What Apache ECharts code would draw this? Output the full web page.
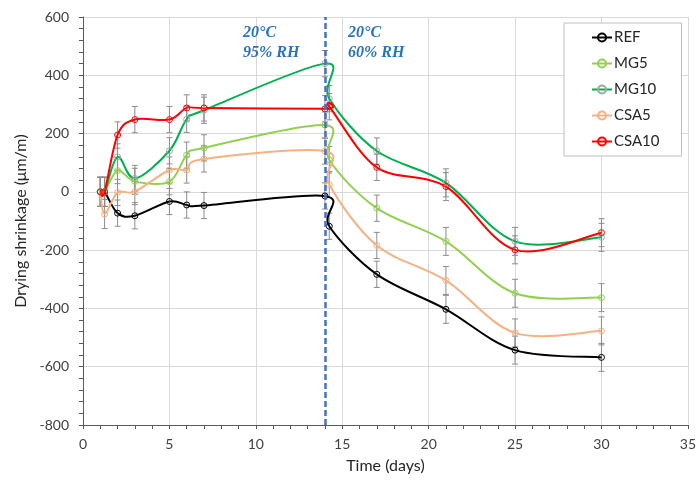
<!DOCTYPE html>
<html><head><meta charset="utf-8">
<script src="https://cdn.jsdelivr.net/npm/echarts@6/dist/echarts.min.js"></script>
<style>html,body{margin:0;padding:0;background:#fff}#c{width:699px;height:481px}</style>
</head><body><div id="c"></div>
<script>
// ---- data ----
const days = [1, 1.25, 2, 3, 5, 6, 7, 14, 14.25, 17, 21, 25, 30];
const seriesNames = ['REF', 'MG5', 'MG10', 'CSA5', 'CSA10'];
const REF   = [0, 0, -73, -82, -33, -45, -47, -14, -118, -283, -403, -543, -568];
const MG5   = [0, 0, 73, 36, 35, 126, 151, 229, 110, -56, -170, -348, -363];
const MG10  = [0, 0, 120, 46, 141, 249, 280, 440, 320, 140, 31, -170, -156];
const CSA5  = [0, -76, -2, 1, 75, 75, 113, 140, 25, -184, -304, -484, -477];
const CSA10 = [0, 0, 195, 248, 248, 288, 288, 285, 292, 84, 18, -199, -140];
const errors = [50, 50, 45, 45, 45, 45, 45, 45, 45, 45, 48, 48, 48];
const yTicks = [-800, -600, -400, -200, 0, 200, 400, 600];
const xTicks = [0, 5, 10, 15, 20, 25, 30, 35];
const phaseLabels = ['20°C\n95% RH', '20°C\n60% RH'];
const phaseChange = 14;

// ---- styles ----
const FONT = 'Lato';
const lineColors = {REF:'#000000', MG5:'#92D050', MG10:'#00B050', CSA5:'#F4B183', CSA10:'#FF0000'};
const markColors = {REF:'#000000', MG5:'#92D050', MG10:'#A5A5A5', CSA5:'#F4B183', CSA10:'#FF0000'};
const values = {REF, MG5, MG10, CSA5, CSA10};

const series = [];
// error bars
seriesNames.forEach(function (name) {
  series.push({
    type: 'custom', name: name + '_err', z: 2, silent: true,
    data: days.map(function (d, i) { return [d, values[name][i], errors[i]]; }),
    renderItem: function (params, api) {
      const x = api.value(0), y = api.value(1), e = api.value(2);
      const t = api.coord([x, y + e]), b = api.coord([x, y - e]);
      const w = 3, st = {stroke: '#8c8c8c', lineWidth: 1};
      return {type: 'group', children: [
        {type: 'line', shape: {x1: t[0], y1: t[1], x2: b[0], y2: b[1]}, style: st},
        {type: 'line', shape: {x1: t[0] - w, y1: t[1], x2: t[0] + w, y2: t[1]}, style: st},
        {type: 'line', shape: {x1: b[0] - w, y1: b[1], x2: b[0] + w, y2: b[1]}, style: st}
      ]};
    }
  });
});
// smoothed curves (spreadsheet-style Catmull-Rom segments through the data points)
seriesNames.forEach(function (name, si) {
  const vals = values[name];
  series.push({
    type: 'custom', name: name + '_curve', z: 3 + si * 0.01, silent: true,
    data: days.map(function (d, i) { return [d, vals[i]]; }),
    renderItem: function (params, api) {
      const i = params.dataIndex, n = days.length;
      if (i >= n - 1) return {type: 'group', children: []};
      const P = function (j) {
        j = Math.max(0, Math.min(n - 1, j));
        return api.coord([days[j], vals[j]]);
      };
      const p0 = P(i - 1), p1 = P(i), p2 = P(i + 1), p3 = P(i + 2);
      const k = 1 / 6;
      return {
        type: 'bezierCurve',
        shape: {
          x1: p1[0], y1: p1[1], x2: p2[0], y2: p2[1],
          cpx1: p1[0] + (p2[0] - p0[0]) * k, cpy1: p1[1] + (p2[1] - p0[1]) * k,
          cpx2: p2[0] - (p3[0] - p1[0]) * k, cpy2: p2[1] - (p3[1] - p1[1]) * k
        },
        style: {stroke: lineColors[name], lineWidth: 2, fill: 'none'}
      };
    }
  });
});
// markers (and legend entries)
seriesNames.forEach(function (name) {
  const s = {
    type: 'line', name: name, z: 4,
    symbol: 'circle', symbolSize: 6,
    data: days.map(function (d, i) { return [d, values[name][i]]; }),
    lineStyle: {color: lineColors[name], width: 2, opacity: 0},
    itemStyle: {color: 'rgba(255,255,255,0)', borderColor: markColors[name], borderWidth: 1},
    emphasis: {disabled: true}
  };
  if (name === 'REF') {
    s.markLine = {
      silent: true, symbol: 'none', label: {show: false},
      lineStyle: {color: '#4472C4', type: [6, 3], width: 2.5, opacity: 1},
      data: [{xAxis: phaseChange}]
    };
  }
  series.push(s);
});

const chart = echarts.init(document.getElementById('c'), null, {renderer: 'canvas'});
chart.setOption({
  animation: false,
  backgroundColor: '#ffffff',
  grid: {left: 83, right: 11, top: 17, bottom: 56, containLabel: false},
  xAxis: {
    type: 'value', min: xTicks[0], max: xTicks[xTicks.length - 1], interval: 5,
    name: 'Time (days)', nameLocation: 'middle', nameGap: 33,
    nameTextStyle: {fontFamily: FONT, fontSize: 16, color: '#262626'},
    axisLine: {onZero: false, lineStyle: {color: '#595959', width: 1}},
    axisTick: {show: true, length: 4, lineStyle: {color: '#595959'}},
    minorTick: {show: true, splitNumber: 5, length: 4, lineStyle: {color: '#595959'}},
    axisLabel: {fontFamily: FONT, fontSize: 14, color: '#404040', margin: 12},
    splitLine: {show: true, lineStyle: {color: '#d9d9d9', width: 1}}
  },
  yAxis: {
    type: 'value', min: yTicks[0], max: yTicks[yTicks.length - 1], interval: 200,
    name: 'Drying shrinkage (μm/m)', nameLocation: 'middle', nameGap: 53,
    nameTextStyle: {fontFamily: FONT, fontSize: 16, color: '#262626'},
    axisLine: {show: true, onZero: false, lineStyle: {color: '#595959', width: 1}},
    axisTick: {show: true, length: 4, lineStyle: {color: '#595959'}},
    minorTick: {show: true, splitNumber: 5, length: 4, lineStyle: {color: '#595959'}},
    axisLabel: {fontFamily: FONT, fontSize: 14, color: '#404040', margin: 14},
    splitLine: {show: true, lineStyle: {color: '#d9d9d9', width: 1}}
  },
  legend: {
    data: seriesNames, orient: 'vertical', left: 564, top: 23,
    padding: [7, 22, 7, 27], itemGap: 11, itemWidth: 20, itemHeight: 10,
    backgroundColor: '#ffffff', borderColor: '#bfbfbf', borderWidth: 1,
    lineStyle: {opacity: 1, width: 2},
    textStyle: {fontFamily: FONT, fontSize: 15, color: '#262626', padding: [0, 0, 0, -3]}
  },
  graphic: [
    {type: 'text', left: 243, top: 23, z: 10,
     style: {text: phaseLabels[0], font: 'italic bold 16px "Liberation Serif"', fill: '#2873C0', lineHeight: 20}},
    {type: 'text', left: 348, top: 23, z: 10,
     style: {text: phaseLabels[1], font: 'italic bold 16px "Liberation Serif"', fill: '#2873C0', lineHeight: 20}}
  ],
  series: series
});
</script>
</body></html>
